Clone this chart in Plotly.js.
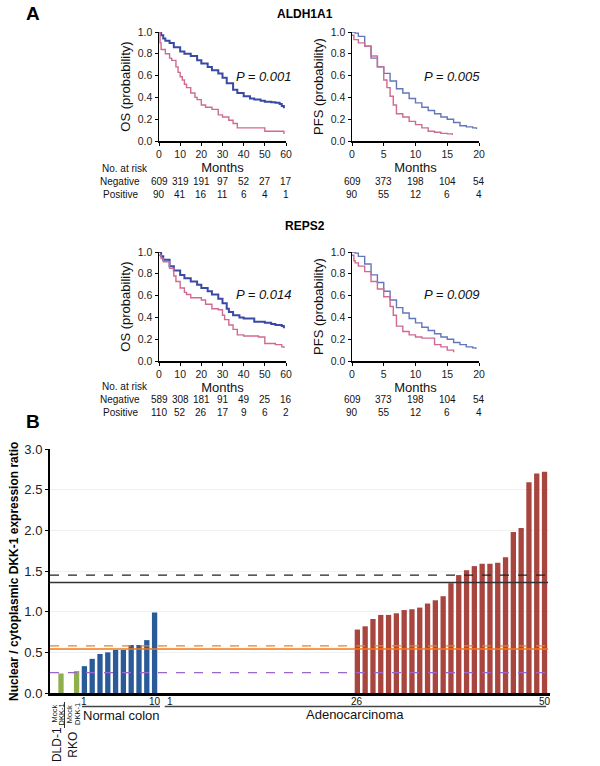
<!DOCTYPE html>
<html><head><meta charset="utf-8">
<script src="https://cdn.plot.ly/plotly-3.0.1.min.js"></script>
<style>html,body{margin:0;padding:0;background:#fff}#chart{width:600px;height:766px}</style>
</head><body><div id="chart"></div>
<script>
// ---------- Panel A: Kaplan-Meier data ----------
var aldhOsNegT = [0,1,2,3,5,7,10,12,15,18,20,23,25,28,30,32,35,37,40,43,45,48,50,53,55,57,58,59];
var aldhOsNegS = [1.0,0.97,0.94,0.92,0.90,0.86,0.82,0.80,0.78,0.74,0.71,0.68,0.65,0.62,0.58,0.53,0.47,0.44,0.41,0.39,0.38,0.37,0.36,0.355,0.35,0.34,0.32,0.30];
var aldhOsPosT = [0,0.5,1,3,5,6,8,9,10,11,12,13,15,17,18,20,22,25,28,30,33,35,37,49,50,58,59];
var aldhOsPosS = [1.0,0.90,0.84,0.80,0.76,0.74,0.68,0.63,0.59,0.56,0.52,0.49,0.44,0.40,0.38,0.33,0.31,0.29,0.24,0.22,0.19,0.16,0.12,0.12,0.09,0.09,0.065];
var aldhPfsNegT = [0,0.5,1,2,3,4,5,6,7,8,9,10,11,12,13,14,15,16,17,18,19,19.6];
var aldhPfsNegS = [1.0,0.99,0.96,0.87,0.76,0.68,0.62,0.55,0.48,0.44,0.39,0.35,0.31,0.28,0.25,0.22,0.20,0.17,0.14,0.13,0.12,0.11];
var aldhPfsPosT = [0,0.3,1,2,3,4,5,5.5,6,6.5,7,8,9,10,11,12,13,14,15,15.8];
var aldhPfsPosS = [0.97,0.93,0.90,0.87,0.78,0.68,0.56,0.49,0.41,0.33,0.25,0.22,0.18,0.15,0.12,0.09,0.08,0.07,0.065,0.055];
var repsOsNegT = [0,1,2,5,7,10,12,15,18,20,23,25,28,30,32,33,35,38,40,45,50,53,55,58,59];
var repsOsNegS = [1.0,0.96,0.93,0.87,0.83,0.79,0.76,0.73,0.70,0.67,0.64,0.61,0.57,0.53,0.48,0.45,0.42,0.40,0.39,0.36,0.35,0.34,0.33,0.32,0.30];
var repsOsPosT = [0,1,2,5,7,8,10,12,13,15,20,22,25,28,30,31,33,35,37,40,47,50,55,57,58,59];
var repsOsPosS = [0.97,0.94,0.91,0.85,0.78,0.73,0.67,0.63,0.61,0.58,0.56,0.52,0.48,0.47,0.42,0.38,0.33,0.29,0.24,0.23,0.22,0.16,0.15,0.15,0.13,0.12];
var repsPfsNegT = [0,0.5,1,2,3,4,5,6,7,8,9,10,11,12,13,14,15,16,17,18,19,19.5];
var repsPfsNegS = [1.0,0.99,0.96,0.89,0.79,0.72,0.64,0.56,0.49,0.44,0.39,0.35,0.31,0.28,0.25,0.22,0.20,0.17,0.15,0.13,0.12,0.11];
var repsPfsPosT = [0,0.3,0.5,1,2,3,4,5,6,6.5,7,8,9,10,11,12,13,14,15,16];
var repsPfsPosS = [0.97,0.92,0.90,0.87,0.82,0.73,0.66,0.59,0.50,0.42,0.32,0.27,0.24,0.22,0.21,0.21,0.15,0.13,0.10,0.08];

var osTicks = [0,10,20,30,40,50,60];
var pfsTicks = [0,5,10,15,20];
var probTicks = [0,0.2,0.4,0.6,0.8,1.0];
var aldhOsRiskNeg = [609,319,191,97,52,27,17];
var aldhOsRiskPos = [90,41,16,11,6,4,1];
var aldhPfsRiskNeg = [609,373,198,104,54];
var aldhPfsRiskPos = [90,55,12,6,4];
var repsOsRiskNeg = [589,308,181,91,49,25,16];
var repsOsRiskPos = [110,52,26,17,9,6,2];
var repsPfsRiskNeg = [609,373,198,104,54];
var repsPfsRiskPos = [90,55,12,6,4];
var pValues = ['P = 0.001','P = 0.005','P = 0.014','P = 0.009'];

// ---------- Panel B: bar data ----------
var cellLineLabels = ['Mock','DKK-1','Mock','DKK-1'];
var cellLineValues = [0, 0.24, 0, 0.27];
var normalValues = [0.33,0.42,0.48,0.50,0.53,0.53,0.59,0.59,0.65,0.99];
var adenoSampleNumbers = [26,27,28,29,30,31,32,33,34,35,36,37,38,39,40,41,42,43,44,45,46,47,48,49,50];
var adenoValues = [0.78,0.82,0.91,0.96,0.96,0.98,1.02,1.03,1.05,1.10,1.14,1.19,1.35,1.45,1.51,1.56,1.59,1.59,1.60,1.67,1.98,2.03,2.59,2.70,2.72];
var refLineValues = [1.45, 1.36, 0.58, 0.54, 0.25];
var refLineColors = ['#222222','#333333','#f08020','#f07818','#9a66cc'];
var refLineDash = ['dash','solid','dash','solid','dash'];
var barTicks = [0,0.5,1.0,1.5,2.0,2.5,3.0];

// ---------- helpers ----------
var W = 600, H = 766;
function fx(px){ return px / W; }
function fy(py){ return 1 - py / H; }
var FONT = 'Liberation Sans, Arial, sans-serif';
var BLUE_OS = '#3a4aa4', BLUE_PFS = '#6377bb', PINK = '#d06a92';

function km(t, s, color, w, xa, ya){
  return {x:t, y:s, type:'scatter', mode:'lines', line:{shape:'hv', color:color, width:w},
          xaxis:xa, yaxis:ya, hoverinfo:'skip'};
}
var traces = [
  km(aldhOsNegT, aldhOsNegS, BLUE_OS, 2, 'x', 'y'),
  km(aldhOsPosT, aldhOsPosS, PINK, 1.4, 'x', 'y'),
  km(aldhPfsNegT, aldhPfsNegS, BLUE_PFS, 1.4, 'x2', 'y2'),
  km(aldhPfsPosT, aldhPfsPosS, PINK, 1.4, 'x2', 'y2'),
  km(repsOsNegT, repsOsNegS, BLUE_OS, 2, 'x3', 'y3'),
  km(repsOsPosT, repsOsPosS, PINK, 1.4, 'x3', 'y3'),
  km(repsPfsNegT, repsPfsNegS, BLUE_PFS, 1.4, 'x4', 'y4'),
  km(repsPfsPosT, repsPfsPosS, PINK, 1.4, 'x4', 'y4')
];

// bar slots: cell lines 0..3, normal 4..13, adenocarcinoma n -> 13+n
var cellX = cellLineValues.map(function(v,i){return i;});
var normalX = normalValues.map(function(v,i){return 4+i;});
var adenoX = adenoSampleNumbers.map(function(n){return 13+n;});
function bars(x, y, color){
  return {x:x, y:y, type:'bar', width:0.68, marker:{color:color, line:{width:0}},
          xaxis:'x5', yaxis:'y5', hoverinfo:'skip'};
}
traces.push(bars(cellX, cellLineValues, '#8fae4e'));
traces.push(bars(normalX, normalValues, '#2a5b98'));
traces.push(bars(adenoX, adenoValues, '#a8453f'));

function kmX(domPx, ticks, range){
  return {domain:[fx(domPx[0]), fx(domPx[1])], range:range, tickvals:ticks, ticks:'outside', ticklen:3,
          tickwidth:1, tickcolor:'#000', showline:true, linecolor:'#000', linewidth:1.5, showgrid:false,
          zeroline:false, tickfont:{family:FONT, size:10.5, color:'#222'},
          title:{text:'Months', font:{family:FONT, size:13, color:'#111'}, standoff:2}, fixedrange:true};
}
function kmY(domPy, title){
  return {domain:[fy(domPy[1]), fy(domPy[0])], range:[0,1], tickvals:probTicks, tickformat:'.1f',
          ticks:'outside', ticklen:3, tickwidth:1, tickcolor:'#000', showline:true, linecolor:'#000',
          linewidth:1.5, showgrid:false, zeroline:false, tickfont:{family:FONT, size:10.5, color:'#222'},
          title:{text:title, font:{family:FONT, size:13, color:'#111'}, standoff:4}, fixedrange:true};
}

var layout = {
  width:W, height:H, margin:{l:0,r:0,t:0,b:0}, paper_bgcolor:'#fff', plot_bgcolor:'rgba(0,0,0,0)',
  showlegend:false, barmode:'overlay', font:{family:FONT, color:'#111'},
  xaxis: Object.assign(kmX([159,286], osTicks, [0,60]), {anchor:'y'}),
  yaxis: Object.assign(kmY([32,141], 'OS (probability)'), {anchor:'x'}),
  xaxis2: Object.assign(kmX([352,479], pfsTicks, [0,20]), {anchor:'y2'}),
  yaxis2: Object.assign(kmY([32,141], 'PFS (probability)'), {anchor:'x2'}),
  xaxis3: Object.assign(kmX([159,286], osTicks, [0,60]), {anchor:'y3'}),
  yaxis3: Object.assign(kmY([252,361], 'OS (probability)'), {anchor:'x3'}),
  xaxis4: Object.assign(kmX([352,479], pfsTicks, [0,20]), {anchor:'y4'}),
  yaxis4: Object.assign(kmY([252,361], 'PFS (probability)'), {anchor:'x4'}),
  xaxis5: {domain:[fx(50), fx(550)], range:[-0.41, 63.7], anchor:'y5', showticklabels:false, ticks:'',
           showline:true, linecolor:'#000', linewidth:2.5, showgrid:false, zeroline:false, fixedrange:true},
  yaxis5: {domain:[fy(693), fy(449)], range:[0,3.0], anchor:'x5', tickvals:barTicks, tickformat:'.1f',
           ticks:'outside', ticklen:3, tickcolor:'#000', showline:true, linecolor:'#000', linewidth:2,
           showgrid:true, gridcolor:'#f0f0f0', gridwidth:1, zeroline:false,
           tickfont:{family:FONT, size:13, color:'#222'}, fixedrange:true},
  shapes:[], annotations:[]
};

function ann(text, px, py, opts){
  var a = {text:text, x:fx(px), y:fy(py), xref:'paper', yref:'paper', showarrow:false,
           xanchor:'center', yanchor:'middle', font:{family:FONT, size:10, color:'#111'}};
  return Object.assign(a, opts || {});
}
var A = layout.annotations, S = layout.shapes;
A.push(ann('<b>A</b>', 33, 13, {font:{family:FONT, size:19, color:'#000'}}));
A.push(ann('<b>B</b>', 33, 421, {font:{family:FONT, size:19, color:'#000'}}));
A.push(ann('<b>ALDH1A1</b>', 305, 14, {font:{family:FONT, size:12, color:'#000'}}));
A.push(ann('<b>REPS2</b>', 305, 226, {font:{family:FONT, size:12, color:'#000'}}));
var pPos = [[264,76],[452,76],[264,294],[452,294]];
pValues.forEach(function(p,i){
  A.push(ann('<i>'+p+'</i>', pPos[i][0], pPos[i][1], {font:{family:FONT, size:13, color:'#111'}}));
});
// risk tables
function riskTable(xa, ticks, neg, pos, yNeg, yPos){
  ticks.forEach(function(t,i){
    A.push({text:String(neg[i]), x:t, y:fy(yNeg), xref:xa, yref:'paper', showarrow:false,
            xanchor:'center', yanchor:'middle', font:{family:FONT, size:10, color:'#111'}});
    A.push({text:String(pos[i]), x:t, y:fy(yPos), xref:xa, yref:'paper', showarrow:false,
            xanchor:'center', yanchor:'middle', font:{family:FONT, size:10, color:'#111'}});
  });
}
riskTable('x', osTicks, aldhOsRiskNeg, aldhOsRiskPos, 182, 194);
riskTable('x2', pfsTicks, aldhPfsRiskNeg, aldhPfsRiskPos, 182, 194);
riskTable('x3', osTicks, repsOsRiskNeg, repsOsRiskPos, 399, 412);
riskTable('x4', pfsTicks, repsPfsRiskNeg, repsPfsRiskPos, 399, 412);
[[168,182,194],[386,399,412]].forEach(function(r){
  A.push(ann('No. at risk', 100, r[0], {xanchor:'left'}));
  A.push(ann('Negative', 120, r[1]));
  A.push(ann('Positive', 120, r[2]));
});

// Panel B reference lines
refLineValues.forEach(function(v,i){
  S.push({type:'line', xref:'x5', yref:'y5', x0:-0.41, x1:63.45, y0:v, y1:v,
          line:{color:refLineColors[i], width:(refLineDash[i]==='solid'?1.5:1.2), dash:refLineDash[i]}});
});
// y title
A.push(ann('<b>Nuclear / cytoplasmic DKK-1 expression ratio</b>', 14, 572,
           {textangle:-90, font:{family:FONT, size:12, color:'#000'}}));
// group labels under x axis
function axLabel(text, slot, py, xanchor, size){
  return {text:text, x:slot, y:fy(py), xref:'x5', yref:'paper', showarrow:false, xanchor:xanchor||'center',
          yanchor:'middle', font:{family:FONT, size:size||10, color:'#111'}};
}
A.push(axLabel('1', 4, 701));
A.push(axLabel('10', 13, 701));
A.push(axLabel('1', 14.3, 701, 'left'));
A.push(axLabel('26', 39, 701));
A.push(axLabel('50', 63, 701));
S.push({type:'line', xref:'x5', yref:'paper', x0:3.7, x1:13.7, y0:fy(706.5), y1:fy(706.5), line:{color:'#444', width:1.5}});
S.push({type:'line', xref:'x5', yref:'paper', x0:14.3, x1:63.2, y0:fy(706.5), y1:fy(706.5), line:{color:'#444', width:1.5}});
A.push(axLabel('Normal colon', 8.7, 715, 'center', 13));
A.push(axLabel('Adenocarcinoma', 38.7, 714, 'center', 13));
// rotated cell-line labels
cellLineLabels.forEach(function(lab,i){
  A.push({text:lab, x:i + 0.05, y:fy(714), xref:'x5', yref:'paper', showarrow:false, textangle:-90,
          xanchor:'center', yanchor:'middle', font:{family:FONT, size:7.5, color:'#111'}});
});
var cellLineNames = ['DLD-1','RKO'];
cellLineNames.forEach(function(n,i){
  A.push({text:n, x:2*i+0.5, y:fy(745), xref:'x5', yref:'paper', showarrow:false, textangle:-90,
          xanchor:'center', yanchor:'middle', font:{family:FONT, size:12, color:'#111'}});
  S.push({type:'line', xref:'x5', yref:'paper', x0:2*i-0.55, x1:2*i-0.55, y0:fy(728), y1:fy(702),
          line:{color:'#333', width:1}});
});

Plotly.newPlot('chart', traces, layout, {staticPlot:true, displayModeBar:false});
</script></body></html>
